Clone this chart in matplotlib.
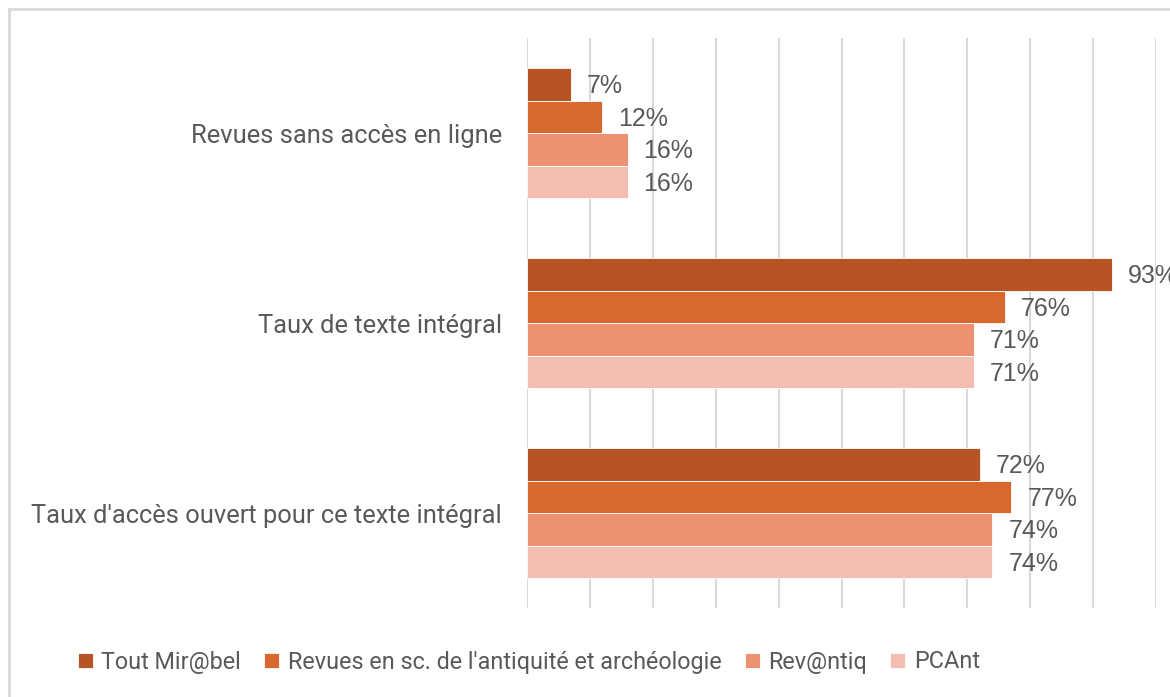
import numpy as np
import matplotlib
matplotlib.use("Agg")
import matplotlib.pyplot as plt
from matplotlib.lines import Line2D

categories = ["Revues sans accès en ligne", "Taux de texte intégral",
              "Taux d'accès ouvert pour ce texte intégral"]
series = ["Tout Mir@bel", "Revues en sc. de l'antiquité et archéologie",
          "Rev@ntiq", "PCAnt"]
tout_mirabel = [7, 93, 72]
revues_antiquite = [12, 76, 77]
revantiq = [16, 71, 74]
pcant = [16, 71, 74]
values = [tout_mirabel, revues_antiquite, revantiq, pcant]
colors = ["#B65426", "#D8692E", "#EC9272", "#F4BDB1"]

txt = "#595959"
lab_font = ["Roboto", "DejaVu Sans"]

fig = plt.figure(figsize=(11.7, 6.97), dpi=100)
ax = fig.add_axes([527 / 1170, 1 - 608 / 697, 629 / 1170, 570 / 697])

y = np.arange(len(categories))
h = 130 / 190 / 4  # bar height, group takes ~68% of the slot
for i, (vals, c) in enumerate(zip(values, colors)):
    pos = y - 2 * h + h / 2 + i * h
    bars = ax.barh(pos, vals, height=h, color=c, edgecolor="white",
                   linewidth=0.6, label=series[i], zorder=3)
    for b, v in zip(bars, vals):
        ax.annotate(f"{v}%", (b.get_width(), b.get_y() + b.get_height() / 2),
                    xytext=(11.5, -1.5), textcoords="offset points", va="center",
                    ha="left", fontsize=18, color=txt,
                    family=["Liberation Sans", "DejaVu Sans"],
                    annotation_clip=False)

ax.set_xlim(0, 100)
ax.set_ylim(len(categories) - 0.5, -0.5)
ax.set_xticks(np.arange(0, 101, 10))
ax.set_xticklabels([])
ax.tick_params(axis="x", length=0)
ax.grid(axis="x", color="#D9D9D9", linewidth=1.5, zorder=0)
ax.set_yticks(y)
ax.set_yticklabels(categories, fontsize=18.4, color=txt, family=lab_font)
ax.tick_params(axis="y", length=0, pad=18)
for s in ax.spines.values():
    s.set_visible(False)

# chart frame (cut off on the right and bottom)
fx = 8.5 / 1170
fy = 1 - 8.5 / 697
fig.add_artist(Line2D([fx, fx], [0, fy], color="#D9D9D9", linewidth=2))
fig.add_artist(Line2D([fx, 1], [fy, fy], color="#D9D9D9", linewidth=2))

fig.legend(loc="center", bbox_to_anchor=(0.452, 1 - 662 / 697), ncol=4,
           frameon=False, handlelength=0.64, handleheight=0.64,
           handletextpad=0.36, columnspacing=1.0,
           prop={"family": lab_font, "size": 16.8}, labelcolor=txt)

fig.savefig("out.png", dpi=100, facecolor="white")
